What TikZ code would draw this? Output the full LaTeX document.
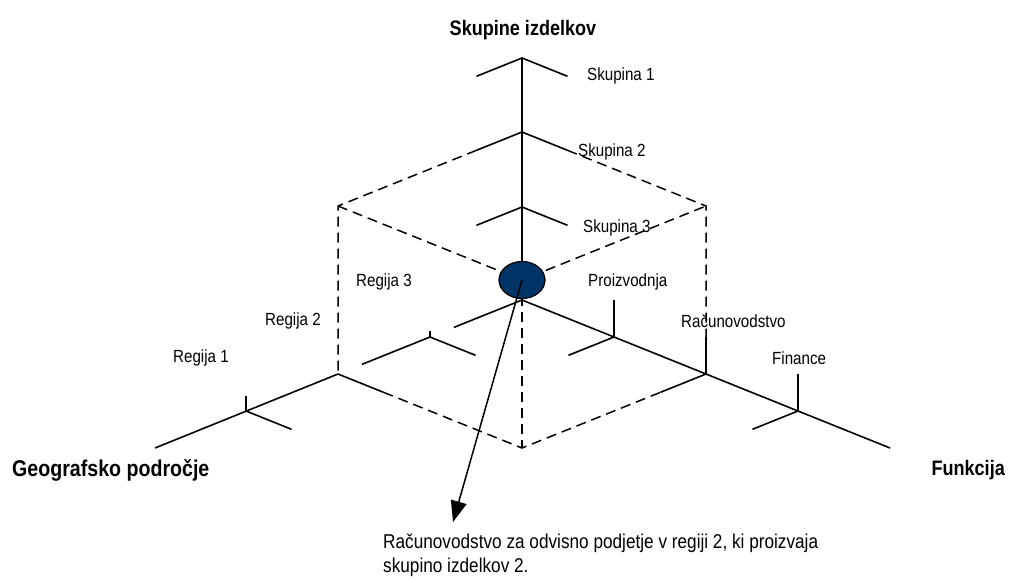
\documentclass[tikz,border=0pt]{standalone}
\usepackage{fontspec}
\setmainfont[FakeStretch=0.86]{Liberation Sans}
\usetikzlibrary{arrows.meta,shapes.geometric,calc}
\definecolor{navy}{RGB}{0,51,102}
\begin{document}
\begin{tikzpicture}[x=1pt,y=-1pt,
  axis/.style={line width=1.6pt},
  guide/.style={line width=1.5pt, dash pattern=on 10pt off 6pt},
  lbl/.style={anchor=west, inner sep=0pt, font=\fontsize{17.6}{21}\selectfont},
  title/.style={inner sep=0pt, font=\fontsize{21}{24}\selectfont\bfseries}]
\fill[white] (0,0) rectangle (1015,579);
\useasboundingbox (0,0) rectangle (1015,579);

% origin and axis ends
\coordinate (O) at (522,300);
\coordinate (Ztop) at (522,58);
\coordinate (Lend) at (155,448);
\coordinate (Rend) at (890,448);
% product groups (vertical)
\coordinate (S1) at (522,58);
\coordinate (S2) at (522,132);
\coordinate (S3) at (522,207);
% regions (left)
\coordinate (G1) at (246,411);
\coordinate (G2) at (338,374);
\coordinate (G3) at (430,337);
% functions (right)
\coordinate (F1) at (614,337);
\coordinate (F2) at (706,374);
\coordinate (F3) at (798,411);
% corners of the cell
\coordinate (TL) at (338,206);
\coordinate (TR) at (706,206);
\coordinate (B) at (522,448);
\coordinate (C) at (522,280);

% dashed cell edges
\draw[guide] ($(S2)+(-45.5,18.3)$) -- (TL) -- (G2);
\draw[guide] ($(S2)+(45.5,18.3)$) -- (TR) -- ($(F2)+(0,-37)$);
\draw[guide] (TL) -- (C) -- (TR);
\draw[guide] (C) -- (B);
\draw[guide] ($(G2)+(45.5,18.3)$) -- (B) -- ($(F2)+(-45.5,18.3)$);

% axes
\draw[axis] (Ztop) -- (O);
\draw[axis] (O) -- (Rend);
\draw[axis] (Lend) -- (G2);
\draw[axis] ($(G2)!0.26!(G3)$) -- (G3);
\draw[axis] ($(G3)!0.26!(O)$) -- (O);

% ticks on the vertical axis
\foreach \s in {S1,S2,S3}
  \draw[axis] ($(\s)+(-45.5,18.3)$) -- (\s) -- ($(\s)+(45.5,18.3)$);
% ticks on the left axis
\draw[axis] ($(G1)+(0,-15)$) -- (G1) -- ($(G1)+(45.5,18.3)$);
\draw[axis] (G2) -- ($(G2)+(45.5,18.3)$);
\draw[axis] ($(G3)+(0,-6)$) -- (G3) -- ($(G3)+(45.5,18.3)$);
% ticks on the right axis
\foreach \f in {F1,F2,F3}
  \draw[axis] ($(\f)+(0,-37)$) -- (\f) -- ($(\f)+(-45.5,18.3)$);

% highlighted cell and pointer
\node[ellipse, draw, line width=1.2pt, fill=navy, minimum width=46pt, minimum height=37pt, inner sep=0pt] (cell) at (C) {};
\coordinate (tip) at (453,522);
\draw[line width=1.5pt, -{Triangle[length=21pt,width=16pt]}] (cell.center) -- (tip);

% axis titles
\node[title] (tz) at (523,30) {Skupine izdelkov};
\node[title, anchor=west, font=\fontsize{22.8}{26}\selectfont\bfseries] (tl) at (12,470) {Geografsko področje};
\node[title, anchor=east] (tr) at (1005,470) {Funkcija};

% tick labels
\node[lbl] (l1) at (587,76) {Skupina 1};
\node[lbl] (l2) at (578,152) {Skupina 2};
\node[lbl] (l3) at (583,228) {Skupina 3};
\node[lbl] (r3) at (356,282) {Regija 3};
\node[lbl] (r2) at (265,321) {Regija 2};
\node[lbl] (r1) at (173,358) {Regija 1};
\node[lbl] (f1) at (588,282) {Proizvodnja};
\node[lbl] (f2) at (681,321) {Računovodstvo};
\node[lbl] (f3) at (772,358) {Finance};

% explanation
\node[inner sep=0pt, anchor=north west, align=left, font=\fontsize{20}{24}\selectfont] (note) at (383,534)
  {Računovodstvo za odvisno podjetje v regiji 2, ki proizvaja\\skupino izdelkov 2.};
\end{tikzpicture}
\end{document}
